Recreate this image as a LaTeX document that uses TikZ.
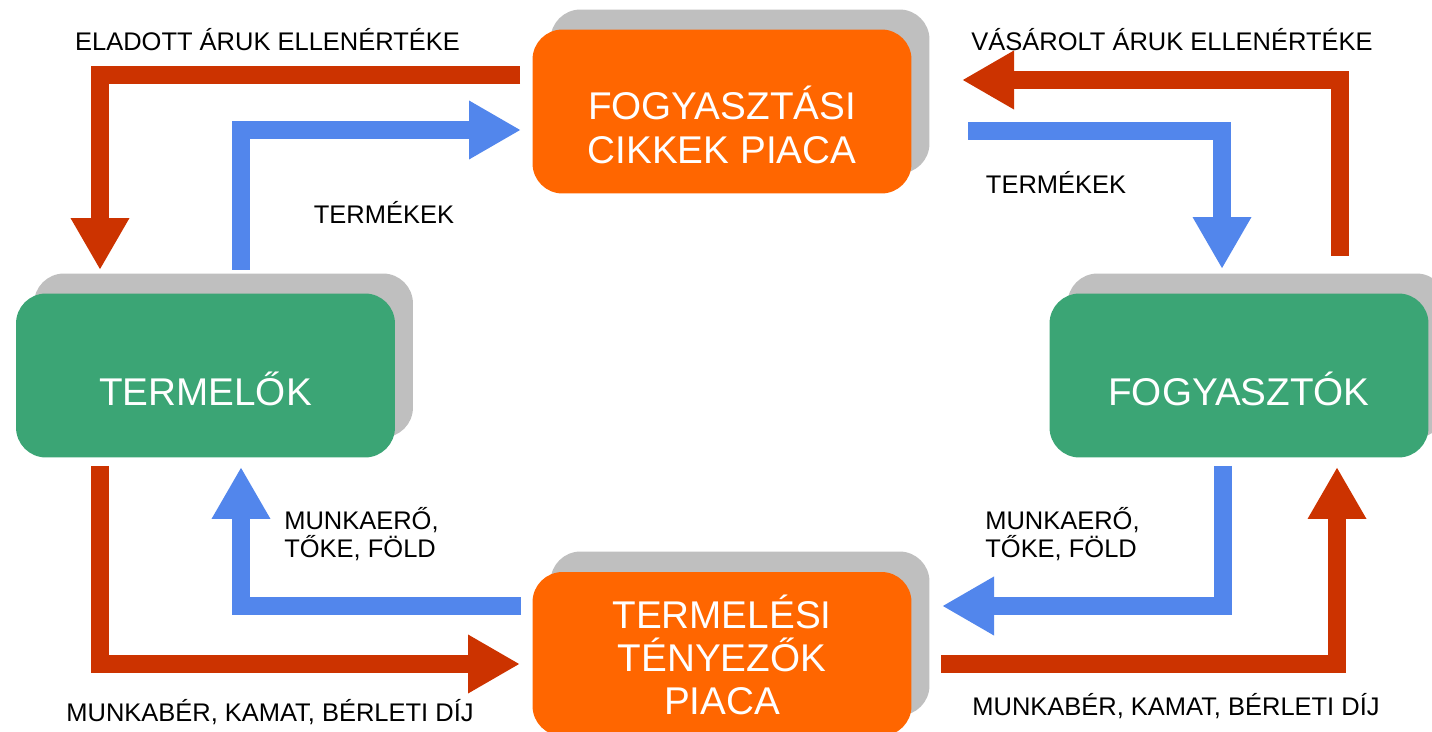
\documentclass[tikz,border=0pt]{standalone}
\usepackage{fontspec}
\setmainfont{Liberation Sans}
\usetikzlibrary{arrows.meta}
\definecolor{cred}{HTML}{CC3300}
\definecolor{cblue}{HTML}{5286EC}
\definecolor{corange}{HTML}{FF6600}
\definecolor{cgreen}{HTML}{3BA575}
\definecolor{cshadow}{HTML}{BFBFBF}
\tikzset{
  boxbase/.style={rectangle, rounded corners=0.6cm, minimum width=7.58cm, minimum height=3.28cm, inner sep=0pt},
  obox/.style={boxbase, fill=corange},
  gbox/.style={boxbase, fill=cgreen},
  shbox/.style={boxbase, fill=cshadow},
  boxtext/.style={text=white, font=\fontsize{22}{25.5}\selectfont, align=center, inner sep=0pt},
  lbl/.style={text=black, font=\fontsize{14.5}{16}\selectfont, inner sep=0pt},
  flow/.style={line width=0.37cm, -{Triangle[length=1.04cm, width=1.1cm]}},
  redflow/.style={flow, draw=cred},
  blueflow/.style={flow, draw=cblue}
}
\begin{document}
\begin{tikzpicture}[x=0.02cm, y=-0.02cm]
\useasboundingbox (0,0) rectangle (1432,732);
% shadows
\node[shbox] (s1) at (740,91.5) {};
\node[shbox] (s2) at (740,633.5) {};
\node[shbox] (s3) at (223.5,355.5) {};
\node[shbox] (s4) at (1257,355.5) {};
% boxes
\node[obox] (fcp) at (722,111.5) {};
\node[obox] (tfp) at (722,654) {};
\node[gbox] (prod) at (205.5,375.5) {};
\node[gbox] (cons) at (1239,375.5) {};
% box texts
\node[boxtext] (fcpt) at (722,125) {FOGYASZTÁSI\\CIKKEK PIACA};
\node[boxtext] (tfpt) at (722,655) {TERMELÉSI\\[-1pt]TÉNYEZŐK\\[-1pt]PIACA};
\node[boxtext] (prodt) at (205.5,389) {TERMELŐK};
\node[boxtext] (const) at (1239,389) {FOGYASZTÓK};
% coordinates for flows
\coordinate (a1s) at (520,75);   \coordinate (a1c) at (100,75);   \coordinate (a1e) at (100,270);
\coordinate (a2s) at (241,270);  \coordinate (a2c) at (241,130);  \coordinate (a2e) at (521,130);
\coordinate (a3s) at (968,131);  \coordinate (a3c) at (1222,131); \coordinate (a3e) at (1222,269);
\coordinate (a4s) at (1340,256); \coordinate (a4c) at (1340,80);  \coordinate (a4e) at (962,80);
\coordinate (a5s) at (100,466);  \coordinate (a5c) at (100,664);  \coordinate (a5e) at (520,664);
\coordinate (a6s) at (521,606);  \coordinate (a6c) at (241,606);  \coordinate (a6e) at (241,467);
\coordinate (a7s) at (1223,466); \coordinate (a7c) at (1223,606); \coordinate (a7e) at (942,606);
\coordinate (a8s) at (941,664);  \coordinate (a8c) at (1337,664); \coordinate (a8e) at (1337,467);
\draw[redflow] (a1s) -- (a1c) -- (a1e);
\draw[blueflow] (a2s) -- (a2c) -- (a2e);
\draw[blueflow] (a3s) -- (a3c) -- (a3e);
\draw[redflow] (a4s) -- (a4c) -- (a4e);
\draw[redflow] (a5s) -- (a5c) -- (a5e);
\draw[blueflow] (a6s) -- (a6c) -- (a6e);
\draw[blueflow] (a7s) -- (a7c) -- (a7e);
\draw[redflow] (a8s) -- (a8c) -- (a8e);
% labels
\node[lbl] (l1) at (267.5,40) {ELADOTT ÁRUK ELLENÉRTÉKE};
\node[lbl] (l2) at (1172,40) {VÁSÁROLT ÁRUK ELLENÉRTÉKE};
\node[lbl] (l3) at (384,212) {TERMÉKEK};
\node[lbl] (l4) at (1056,182) {TERMÉKEK};
\node[lbl, anchor=west, align=left, font=\fontsize{14.5}{16}\selectfont] (l5) at (284,534) {MUNKAERŐ,\\TŐKE, FÖLD};
\node[lbl, anchor=west, align=left, font=\fontsize{14.5}{16}\selectfont] (l6) at (985,534) {MUNKAERŐ,\\TŐKE, FÖLD};
\node[lbl] (l7) at (270,712) {MUNKABÉR, KAMAT, BÉRLETI DÍJ};
\node[lbl] (l8) at (1176,706) {MUNKABÉR, KAMAT, BÉRLETI DÍJ};
\end{tikzpicture}
\end{document}
